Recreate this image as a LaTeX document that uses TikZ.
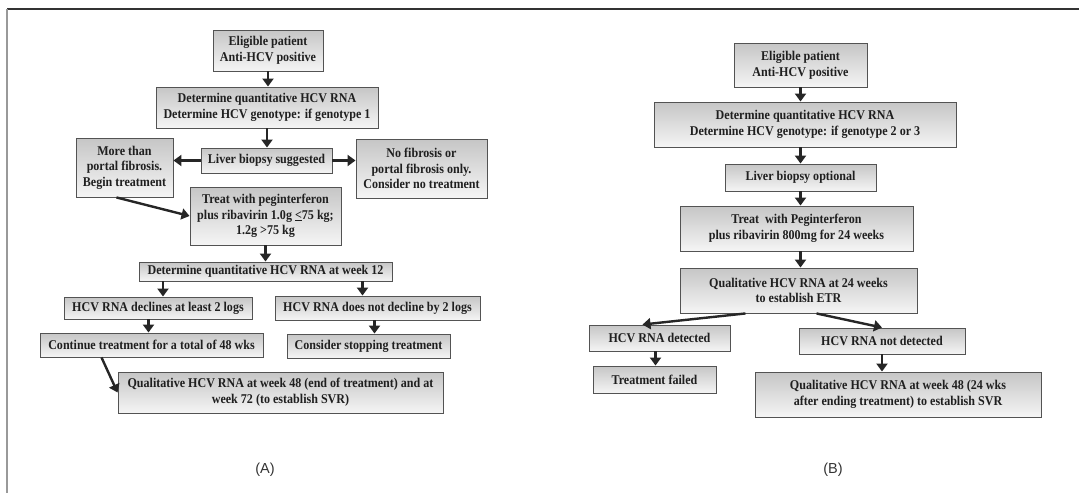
\documentclass[tikz,border=0pt]{standalone}
\usepackage{fontspec}
\setmainfont[FakeStretch=0.9]{Liberation Serif}
\setsansfont{Liberation Sans}
\usetikzlibrary{arrows.meta}

\begin{document}
\begin{tikzpicture}[x=1pt,y=-1pt,
    box/.style={draw=gray!65!black, line width=0.9pt, top color=gray!45, bottom color=gray!8,
      text=black!88, font=\fontsize{13.4}{15.6}\selectfont\bfseries, align=center, inner sep=1pt},
    arr/.style={draw=black!85, line width=2.4pt, -{Triangle[length=8pt,width=11pt]}},
    panel/.style={font=\sffamily\fontsize{14.5}{16}\selectfont, text=black!80}]
  \useasboundingbox (0,0) rectangle (1079,493);
  \draw[black!80, line width=1.5pt] (7,9) -- (1079,9);
  \draw[gray!80, line width=2pt] (7,9) -- (7,493);

  % (A) genotype 1
  \node[box, minimum width=110, minimum height=41] (a1) at (268,50.5) {Eligible patient\\Anti-HCV positive};
  \node[box, minimum width=222, minimum height=41] (a2) at (267,107.5) {Determine quantitative HCV RNA\\Determine HCV genotype: if genotype 1};
  \node[box, minimum width=131, minimum height=25] (a3) at (266.5,160.5) {Liver biopsy suggested};
  \node[box, minimum width=97, minimum height=59] (a4) at (124.5,167.5) {More than\\portal fibrosis.\\Begin treatment};
  \node[box, minimum width=131, minimum height=59] (a5) at (421.5,168.5) {No fibrosis or\\portal fibrosis only.\\Consider no treatment};
  \node[box, minimum width=151, minimum height=58] (a6) at (265.5,216) {Treat with peginterferon\\plus ribavirin 1.0g \underline{<}75 kg;\\1.2g >75 kg};
  \node[box, minimum width=253, minimum height=19] (a7) at (265.5,271.5) {Determine quantitative HCV RNA at week 12};
  \node[box, minimum width=188, minimum height=22] (a8) at (158,308) {HCV RNA declines at least 2 logs};
  \node[box, minimum width=205, minimum height=24] (a9) at (377.5,308) {HCV RNA does not decline by 2 logs};
  \node[box, minimum width=223, minimum height=24] (a10) at (151.5,345) {Continue treatment for a total of 48 wks};
  \node[box, minimum width=163, minimum height=24] (a11) at (368.5,346) {Consider stopping treatment};
  \node[box, minimum width=325, minimum height=41] (a12) at (280.5,392.5) {Qualitative HCV RNA at week 48 (end of treatment) and at\\week 72 (to establish SVR)};
  \node[panel] (la) at (265,470) {(A)};

  \draw[arr] (a1.south) -- (a1.south |- a2.north);
  \draw[arr] (a2.south) -- (a2.south |- a3.north);
  \draw[arr] (a3.west) -- (a3.west -| a4.east);
  \draw[arr] (a3.east) -- (a3.east -| a5.west);
  \draw[arr] ([xshift=-8pt]a4.south) -- (a6.west);
  \draw[arr] (a6.south) -- (a6.south |- a7.north);
  \draw[arr] ([xshift=5pt]a8.north |- a7.south) -- ([xshift=5pt]a8.north);
  \draw[arr] ([xshift=-15pt]a9.north |- a7.south) -- ([xshift=-15pt]a9.north);
  \draw[arr] ([xshift=-3pt]a10.north |- a8.south) -- ([xshift=-3pt]a10.north);
  \draw[arr] ([xshift=6pt]a11.north |- a9.south) -- ([xshift=6pt]a11.north);
  \draw[arr] ([xshift=-50pt]a10.south) -- (a12.west);

  % (B) genotype 2 or 3
  \node[box, minimum width=133, minimum height=44] (b1) at (800.5,65) {Eligible patient\\Anti-HCV positive};
  \node[box, minimum width=302, minimum height=45] (b2) at (805,124.5) {Determine quantitative HCV RNA\\Determine HCV genotype: if genotype 2 or 3};
  \node[box, minimum width=151, minimum height=27] (b3) at (800.5,177.5) {Liver biopsy optional};
  \node[box, minimum width=233, minimum height=45] (b4) at (796.5,228.5) {Treat\ \ with Peginterferon\\plus ribavirin 800mg for 24 weeks};
  \node[box, minimum width=237, minimum height=45] (b5) at (798.5,290.5) {Qualitative HCV RNA at 24 weeks\\to establish ETR};
  \node[box, minimum width=141, minimum height=26] (b6) at (659.5,338) {HCV RNA detected};
  \node[box, minimum width=123, minimum height=27] (b7) at (654.5,379.5) {Treatment failed};
  \node[box, minimum width=166, minimum height=26] (b8) at (882,341) {HCV RNA not detected};
  \node[box, minimum width=286, minimum height=45] (b9) at (898,394.5) {Qualitative HCV RNA at week 48 (24 wks\\after ending treatment) to establish SVR};
  \node[panel] (lb) at (833,470) {(B)};

  \draw[arr] (b1.south) -- (b1.south |- b2.north);
  \draw[arr] (b1.south |- b2.south) -- (b1.south |- b3.north);
  \draw[arr] (b1.south |- b3.south) -- (b1.south |- b4.north);
  \draw[arr] (b1.south |- b4.south) -- (b1.south |- b5.north);
  \draw[arr] ([xshift=-53pt]b5.south) -- ([xshift=-17pt]b6.north);
  \draw[arr] ([xshift=18pt]b5.south) -- (b8.north);
  \draw[arr] ([xshift=-4pt]b6.south) -- ([xshift=-4pt]b6.south |- b7.north);
  \draw[arr] (b8.south) -- (b8.south |- b9.north);
\end{tikzpicture}
\end{document}
